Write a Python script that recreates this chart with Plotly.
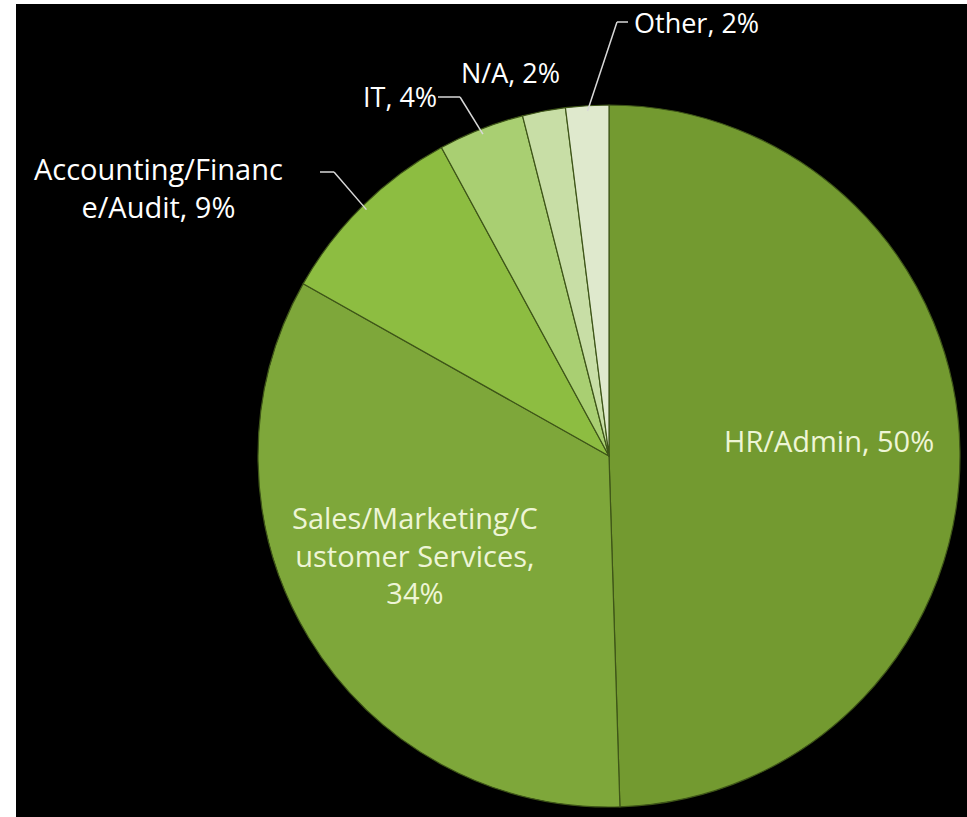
import math
import plotly.graph_objects as go

W, H = 967, 817

categories = ["HR/Admin", "Sales/Marketing/Customer Services", "Accounting/Finance/Audit",
              "IT", "N/A", "Other"]
values = [50, 34, 9, 4, 2, 2]
label_texts = ["HR/Admin, 50%",
               "Sales/Marketing/C<br>ustomer Services,<br>34%",
               "Accounting/Financ<br>e/Audit, 9%",
               "IT, 4%",
               "N/A, 2%",
               "Other, 2%"]
colors = ["#739a30", "#7ea73a", "#8dbd41", "#a9cf72", "#c8dea6", "#dfe9cd"]

# pie placement (pixels)
left, right, top, bottom = 258, 960, 100, 812
cx, cy = (left + right) / 2, (top + bottom) / 2
R = min(right - left, bottom - top) / 2


def px(x):
    return x / W


def py(y):
    return 1 - y / H


fig = go.Figure(go.Pie(
    labels=categories, values=values, sort=False, direction="clockwise", rotation=0,
    marker=dict(colors=colors, line=dict(color="#3e5518", width=1.2)),
    textinfo="none", hoverinfo="label+percent", showlegend=False,
    domain=dict(x=[px(left), px(right)], y=[py(bottom), py(top)]),
))

# slice mid-angles for leader tips
total = sum(values)
cum = 0
mids = []
for v in values:
    mids.append((cum + v / 2) / total * 2 * math.pi)
    cum += v


def edge(i, rr=1.0):
    a = mids[i]
    return cx + R * rr * math.sin(a), cy - R * rr * math.cos(a)


font_out = dict(family="Open Sans, sans-serif", size=29, color="#ffffff")
font_small = dict(family="Open Sans, sans-serif", size=27, color="#ffffff")
font_in = dict(family="Open Sans, sans-serif", size=29, color="#eef5d6")

annotations = [
    dict(x=px(829), y=py(440), text=label_texts[0], font=font_in),
    dict(x=px(415), y=py(555), text=label_texts[1], font=font_in),
    dict(x=px(158), y=py(188), text=label_texts[2], font=font_out),
    dict(x=px(400), y=py(96), text=label_texts[3], font=font_small),
    dict(x=px(510), y=py(72), text=label_texts[4], font=font_small),
    dict(x=px(696), y=py(22), text=label_texts[5], font=font_small),
]
for a in annotations:
    a.update(xref="paper", yref="paper", showarrow=False, xanchor="center", yanchor="middle",
             align="center")

shapes = [dict(type="rect", xref="paper", yref="paper", x0=px(16), x1=1.01, y0=-0.01, y1=py(4),
               fillcolor="#000000", line=dict(width=0), layer="below")]

leaders = [(2, (320, 172), (334, 172)), (3, (438, 97), (460, 97)), (5, (628, 22), (617, 22))]
for i, p0, p1 in leaders:
    tx, ty = edge(i, 0.985)
    lc = dict(color="#d8d8d8", width=1.5)
    shapes.append(dict(type="line", xref="paper", yref="paper", x0=px(p0[0]), y0=py(p0[1]),
                       x1=px(p1[0]), y1=py(p1[1]), line=lc))
    shapes.append(dict(type="line", xref="paper", yref="paper", x0=px(p1[0]), y0=py(p1[1]),
                       x1=px(tx), y1=py(ty), line=lc))

fig.update_layout(width=W, height=H, margin=dict(l=0, r=0, t=0, b=0),
                  paper_bgcolor="#ffffff", plot_bgcolor="#000000",
                  annotations=annotations, shapes=shapes)

fig.write_html("out.html", config={"displayModeBar": False},
               post_script="document.body.style.margin='0';document.body.style.overflow='hidden';")
